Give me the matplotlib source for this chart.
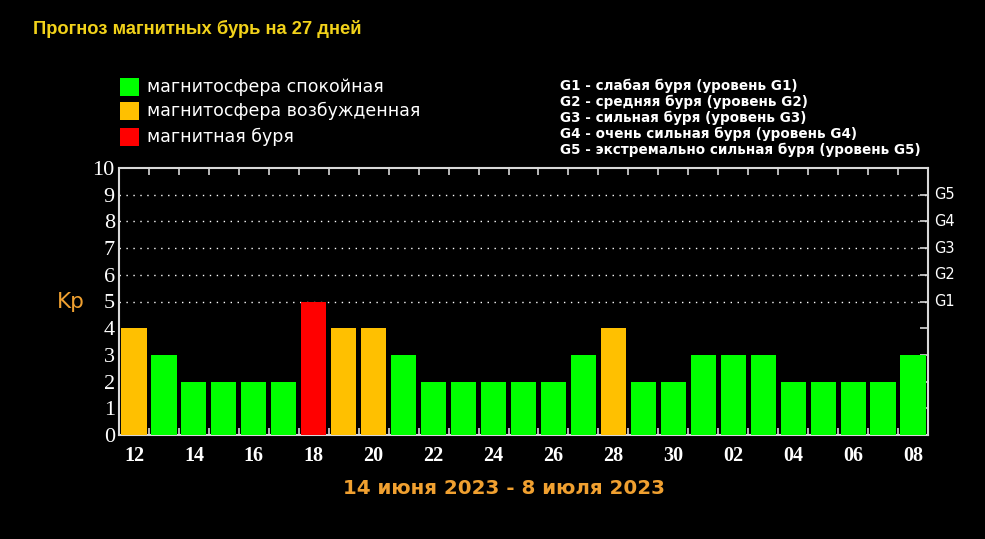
import matplotlib
matplotlib.use("Agg")
import matplotlib.pyplot as plt
from matplotlib.patches import Rectangle

days = ["12","13","14","15","16","17","18","19","20","21","22","23","24","25","26",
        "27","28","29","30","01","02","03","04","05","06","07","08"]
kp = [4,3,2,2,2,2,5,4,4,3,2,2,2,2,2,3,4,2,2,3,3,3,2,2,2,2,3]
levels = ["orange","green","green","green","green","green","red","orange","orange","green",
          "green","green","green","green","green","green","orange","green","green","green",
          "green","green","green","green","green","green","green"]
legend_labels = ["магнитосфера спокойная", "магнитосфера возбужденная", "магнитная буря"]
g_labels = ["G1 - слабая буря (уровень G1)",
            "G2 - средняя буря (уровень G2)",
            "G3 - сильная буря (уровень G3)",
            "G4 - очень сильная буря (уровень G4)",
            "G5 - экстремально сильная буря (уровень G5)"]
g_ticks = ["G1","G2","G3","G4","G5"]
title = "Прогноз магнитных бурь на 27 дней"
date_range = "14 июня 2023 - 8 июля 2023"

cmap = {"green": "#00FF00", "orange": "#FFC000", "red": "#FF0000"}
W, H = 985, 539
fig = plt.figure(figsize=(W/100, H/100), dpi=100, facecolor="black")

def fx(x): return x / W
def fy(y): return 1 - y / H

ax = fig.add_axes([fx(119), fy(435), fx(928) - fx(119), fy(168) - fy(435)])
ax.set_facecolor("black")
n = len(kp)
xs = [i + 0.5 for i in range(n)]
ax.bar(xs, kp, width=0.84, color=[cmap[l] for l in levels], zorder=3)
ax.set_xlim(0, n)
ax.set_ylim(0, 10)
for y in range(5, 10):
    ax.axhline(y, color="white", lw=1.0, ls=(0, (1, 4)), zorder=1)
for s in ax.spines.values():
    s.set_color("#D8D8D8")
    s.set_linewidth(1.5)

ax.set_yticks(range(0, 11))
ax.set_yticklabels([str(i) for i in range(11)], family="Liberation Serif",
                   fontsize=16, color="white")
ax.tick_params(axis="y", which="major", left=False, right=True, direction="in",
               length=6, width=1.2, color="#D8D8D8", pad=3)
ax.set_xticks(xs[::2])
ax.set_xticklabels(days[::2], family="Liberation Serif", fontweight="bold",
                   fontsize=14.5, color="white")
ax.tick_params(axis="x", which="major", length=0, pad=8)
ax.set_xticks(range(1, n), minor=True)
ax.tick_params(axis="x", which="minor", top=True, bottom=True, direction="in",
               length=5, width=1.2, color="#D8D8D8")

for i, g in enumerate(g_ticks):
    ax.text(1.008, (5 + i) / 10, g, transform=ax.transAxes, ha="left", va="center",
            family="DejaVu Sans", fontsize=10.5, color="white")

fig.text(fx(71), fy(302), "Kp", ha="center", va="center", family="DejaVu Sans",
         fontsize=15.5, color="#F0A030")

fig.text(fx(33), fy(29), title, ha="left", va="center", family="Liberation Sans",
         fontweight="bold", fontsize=13.2, color="#F2D21A")

box_y = [87, 111, 137]
for yc, lab, key in zip(box_y, legend_labels, ["green", "orange", "red"]):
    fig.patches.append(Rectangle((fx(120), fy(yc + 9)), fx(19), 18 / H,
                                 transform=fig.transFigure, facecolor=cmap[key],
                                 edgecolor="none"))
    fig.text(fx(147), fy(yc), lab, ha="left", va="center", family="DejaVu Sans",
             fontsize=12.5, color="white")

for i, lab in enumerate(g_labels):
    fig.text(fx(560), fy(86 + 16 * i), lab, ha="left", va="center",
             family="DejaVu Sans", fontweight="bold", fontsize=9.75, color="white")

fig.text(fx(504), fy(488), date_range, ha="center", va="center", family="DejaVu Sans",
         fontweight="bold", fontsize=14.3, color="#F0A030")

fig.savefig("out.png", dpi=100, facecolor="black")
